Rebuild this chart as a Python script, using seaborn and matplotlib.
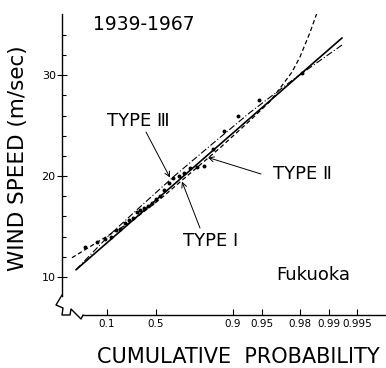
import numpy as np
import matplotlib
matplotlib.use("Agg")
import matplotlib.pyplot as plt
import seaborn as sns
from matplotlib.lines import Line2D
from matplotlib.ticker import NullLocator

sns.set_style("ticks")
plt.rcParams["font.family"] = ["DejaVu Sans"]
for key in ("text.color", "axes.labelcolor", "xtick.color", "ytick.color", "axes.edgecolor"):
    plt.rcParams[key] = "black"

# ---- data (cumulative probability, wind speed m/sec) ----
obs_prob = [0.019, 0.054, 0.088, 0.122, 0.157, 0.191, 0.225, 0.260, 0.294, 0.328,
            0.363, 0.397, 0.431, 0.466, 0.500, 0.534, 0.569, 0.603, 0.637, 0.672,
            0.706, 0.740, 0.775, 0.809, 0.843, 0.878, 0.912, 0.946, 0.981]
obs_speed = [13.0, 13.5, 13.8, 14.0, 14.6, 14.7, 15.3, 15.6, 15.8, 16.4,
             16.6, 16.8, 17.0, 17.3, 17.7, 18.0, 18.6, 19.3, 19.8, 20.0,
             20.3, 20.8, 20.9, 21.0, 22.7, 24.5, 26.0, 27.5, 30.2]

type1_prob = [0.0073, 0.9928]
type1_speed = [10.7, 33.7]

type2_prob = [0.0044, 0.0651, 0.2699, 0.534, 0.740, 0.866, 0.9332, 0.9586,
              0.9674, 0.9756, 0.9799, 0.9842, 0.9873]
type2_speed = [11.9, 13.6, 15.4, 17.7, 20.25, 22.8, 25.5, 27.4,
               28.7, 30.3, 31.8, 34.2, 36.7]

type3_prob = [0.0073, 0.1179, 0.386, 0.647, 0.832, 0.9332, 0.9773, 0.9928]
type3_speed = [10.7, 14.2, 17.2, 20.05, 23.0, 26.3, 29.7, 33.0]

tick_probs = [0.1, 0.5, 0.9, 0.95, 0.98, 0.99, 0.995]
tick_labels = ["0.1", "0.5", "0.9", "0.95", "0.98", "0.99", "0.995"]
speed_major = [10, 20, 30]
speed_minor = [12, 14, 16, 18, 22, 24, 26, 28, 32, 34]


def fwd(p):
    p = np.clip(np.asarray(p, dtype=float), 1e-9, 1 - 1e-9)
    return -np.log(-np.log(p))


def inv(y):
    return np.exp(-np.exp(-np.asarray(y, dtype=float)))


W, H = 386, 368
fig = plt.figure(figsize=(W / 100, H / 100), dpi=100)
ax = fig.add_axes([62 / W, (H - 315) / H, (W - 62) / W, (315 - 14) / H])
ax.set_xscale("function", functions=(fwd, inv))
ax.set_xlim(0.00098, 0.99754)
ax.set_ylim(6.22, 36.07)

k = dict(ax=ax, color="black", sort=False, estimator=None, legend=False)
sns.lineplot(x=type1_prob, y=type1_speed, lw=1.2, **k)
sns.lineplot(x=type3_prob, y=type3_speed, lw=0.8, linestyle=(0, (6, 2, 1, 2)), **k)
sns.lineplot(x=type2_prob, y=type2_speed, lw=0.9, linestyle=(0, (3.5, 2.2)), **k)
sns.scatterplot(x=obs_prob, y=obs_speed, ax=ax, color="black", s=8, linewidth=0,
                legend=False, zorder=5)

# axes styling
for s in ("top", "right"):
    ax.spines[s].set_visible(False)
ax.spines["left"].set_bounds(8.11, 36.07)
ax.spines["bottom"].set_bounds(0.016, 0.99754)
for s in ("left", "bottom"):
    ax.spines[s].set_linewidth(1.0)
    ax.spines[s].set_color("black")

ax.set_xticks(tick_probs)
ax.set_xticklabels(tick_labels, fontsize=7.5)
ax.xaxis.set_minor_locator(NullLocator())
ax.tick_params(axis="x", direction="in", length=4, width=0.8, pad=3, colors="black")

ax.set_yticks(speed_major)
ax.set_yticklabels([str(v) for v in speed_major], fontsize=8)
ax.set_yticks(speed_minor, minor=True)
ax.tick_params(axis="y", which="major", direction="inout", length=7, width=0.8, pad=1,
               colors="black")
ax.tick_params(axis="y", which="minor", direction="in", length=3, width=0.8, colors="black")

ax.set_xlabel("")
ax.set_ylabel("")


def fp(x, y):
    return (x / W, 1 - y / H)


# axis break zigzag (image pixel coords)
zz = [(62, 295), (56, 305), (63, 308), (62, 315), (70, 315), (71, 309), (81, 319), (83, 315)]
fig.add_artist(Line2D([fp(*p)[0] for p in zz], [fp(*p)[1] for p in zz],
                      transform=fig.transFigure, color="black", lw=1.0))

# texts
fig.text(*fp(18, 158), "WIND SPEED (m/sec)", rotation=90, ha="center", va="center",
         fontsize=15.5, color="black")
fig.text(*fp(97, 357), "CUMULATIVE  PROBABILITY", ha="left", va="center", fontsize=15,
         color="black")
fig.text(*fp(93, 25), "1939-1967", ha="left", va="center", fontsize=13.5, color="black")
fig.text(*fp(138, 121), "TYPE Ⅲ", ha="center", va="center", fontsize=13, color="black")
fig.text(*fp(302, 174), "TYPE Ⅱ", ha="center", va="center", fontsize=13, color="black")
fig.text(*fp(211, 241), "TYPE Ⅰ", ha="center", va="center", fontsize=13, color="black")
fig.text(*fp(313, 275), "Fukuoka", ha="center", va="center", fontsize=13, color="black")

arrow = dict(arrowstyle="->", color="black", lw=0.7, shrinkA=0, shrinkB=0,
             mutation_scale=9)
ax.annotate("", xy=(0.612, 19.85), xycoords="data",
            xytext=(146, H - 132), textcoords="figure pixels", arrowprops=arrow)
ax.annotate("", xy=(0.824, 21.84), xycoords="data",
            xytext=(261, H - 174), textcoords="figure pixels", arrowprops=arrow)
ax.annotate("", xy=(0.6935, 19.45), xycoords="data",
            xytext=(200, H - 228), textcoords="figure pixels", arrowprops=arrow)

fig.savefig("out.png", dpi=100)
